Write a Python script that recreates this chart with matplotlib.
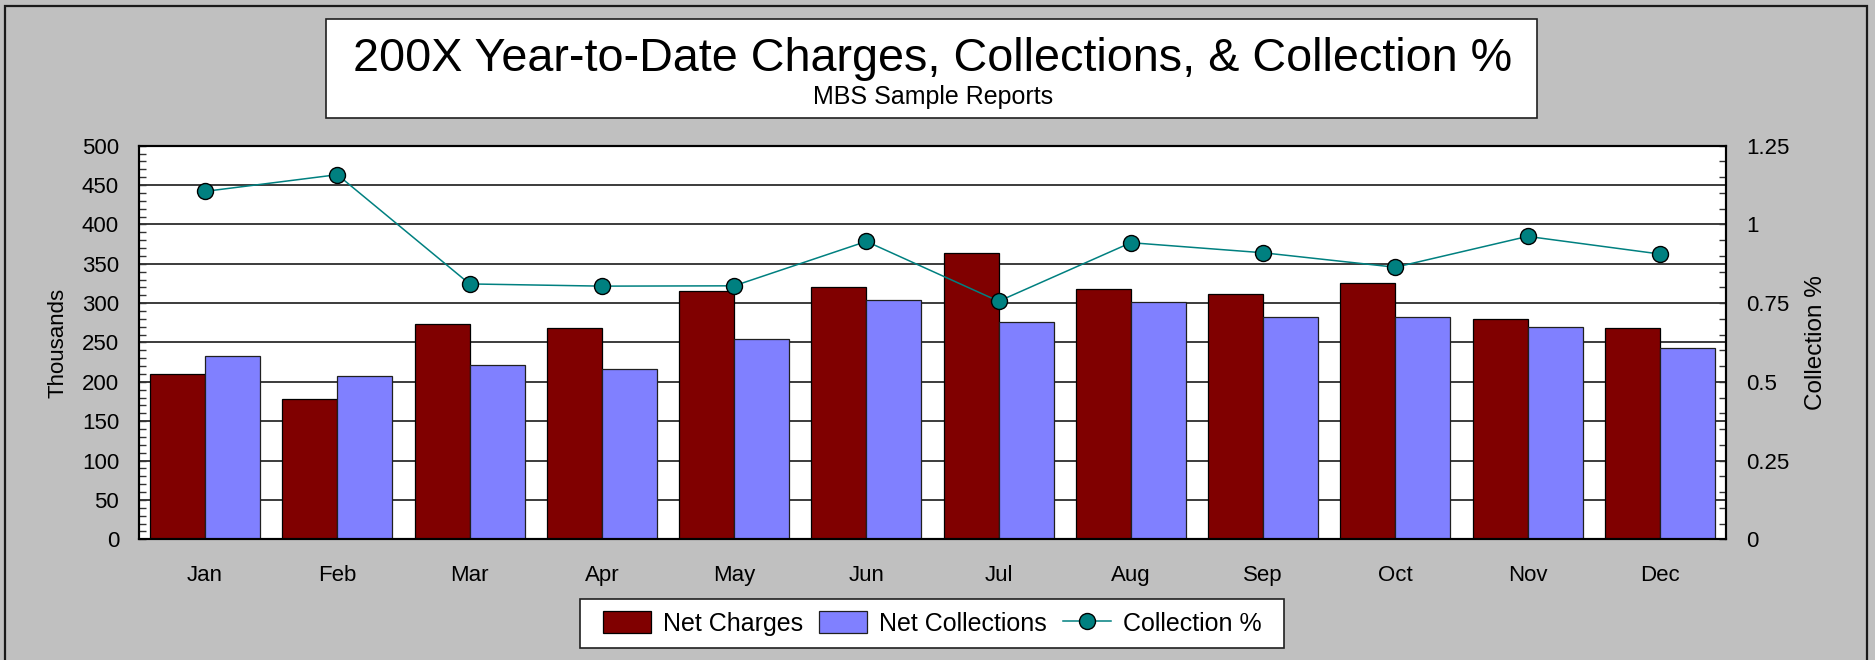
import matplotlib
matplotlib.use("Agg")
import matplotlib.pyplot as plt
from matplotlib.patches import Rectangle, Patch
from matplotlib.ticker import MultipleLocator, FixedLocator, FuncFormatter
from matplotlib.lines import Line2D
import numpy as np

months = ["Jan", "Feb", "Mar", "Apr", "May", "Jun", "Jul", "Aug", "Sep", "Oct", "Nov", "Dec"]
net_charges = [210, 178, 273, 268, 316, 321, 364, 318, 311, 325, 280, 268]
net_collections = [233, 207, 221, 216, 255, 304, 276, 301, 283, 282, 270, 243]
collection_pct = [1.105, 1.158, 0.811, 0.804, 0.805, 0.946, 0.756, 0.942, 0.910, 0.864, 0.962, 0.906]

title = "200X Year-to-Date Charges, Collections, & Collection %"
subtitle = "MBS Sample Reports"

plt.rcParams['font.family'] = ['Liberation Sans', 'DejaVu Sans']

W, H = 1875, 660
fig = plt.figure(figsize=(W / 100, H / 100), dpi=100, facecolor='#C0C0C0')

def fx(px):
    return px / W

def fy(py):
    return 1 - py / H

# outer frame
fig.patches.append(Rectangle((fx(5), -0.05), fx(1867) - fx(5), fy(6) + 0.05,
                             transform=fig.transFigure, facecolor='none',
                             edgecolor='#1a1a1a', lw=1.6, zorder=0))
# title box
fig.patches.append(Rectangle((fx(326), fy(118.3)), fx(1537) - fx(326), (118.3 - 19.3) / H,
                             transform=fig.transFigure, facecolor='white',
                             edgecolor='#202020', lw=1.2, zorder=1))
fig.text(fx(933), fy(71), title, ha='center', va='baseline', fontsize=33.7, color='black')
fig.text(fx(933), fy(104.3), subtitle, ha='center', va='baseline', fontsize=18, color='black')

# plot area
left, right, top, bottom = 139, 1726, 145.7, 539.3
ax = fig.add_axes([fx(left), fy(bottom), fx(right) - fx(left), (bottom - top) / H])
ax.set_facecolor('white')

x = np.arange(len(months))
bw = 0.415
ax.bar(x - bw / 2, net_charges, bw, color='#800000', edgecolor='black', lw=0.9, zorder=2,
       label='Net Charges')
ax.bar(x + bw / 2, net_collections, bw, color='#8080FF', edgecolor='#202020', lw=0.9, zorder=2,
       label='Net Collections')

ax.set_xlim(-0.5, len(months) - 0.5)
ax.set_ylim(0, 500)
ax.set_xticks(x)
ax.set_xticklabels(months, fontsize=16)
ax.tick_params(axis='x', length=0, pad=18.5)
ax.yaxis.set_major_locator(MultipleLocator(50))
ax.yaxis.set_minor_locator(MultipleLocator(10))
ax.tick_params(axis='y', which='both', direction='in', length=5, width=1, color='#333333',
               labelsize=16, pad=14.4)
ax.grid(axis='y', which='major', color='#1a1a1a', lw=1.2)
ax.set_axisbelow(True)
ax.set_ylabel('Thousands', fontsize=16)
for s in ax.spines.values():
    s.set_linewidth(1.5)
    s.set_color('black')

ax2 = ax.twinx()
ax2.plot(x, collection_pct, color='#008080', lw=1.1, marker='o', markersize=11.5,
         markerfacecolor='#008080', markeredgecolor='black', markeredgewidth=1.0, zorder=3,
         label='Collection %')
ax2.set_ylim(0, 1.25)
ax2.yaxis.set_major_locator(FixedLocator([0, 0.25, 0.5, 0.75, 1.0, 1.25]))
ax2.yaxis.set_minor_locator(MultipleLocator(0.05))
ax2.yaxis.set_major_formatter(FuncFormatter(lambda v, p: ('%g' % round(v, 2))))
ax2.tick_params(axis='y', which='both', direction='in', length=5, width=1, color='#333333',
                labelsize=16, pad=14.4)
ax2.set_ylabel('Collection %', fontsize=17.5)
for s in ax2.spines.values():
    s.set_linewidth(1.5)
    s.set_color('black')

ax.yaxis.set_label_coords((69 - left) / (right - left), 0.5)
ax2.yaxis.set_label_coords((1805 - left) / (right - left), 0.5)

# legend box
fig.patches.append(Rectangle((fx(580), fy(648)), fx(1284) - fx(580), (648 - 599) / H,
                             transform=fig.transFigure, facecolor='white',
                             edgecolor='#202020', lw=1.2, zorder=1))
handles = [Patch(facecolor='#800000', edgecolor='black', lw=0.9),
           Patch(facecolor='#8080FF', edgecolor='#202020', lw=0.9),
           Line2D([], [], color='#008080', lw=1.1, marker='o', markersize=11.5,
                  markerfacecolor='#008080', markeredgecolor='black', markeredgewidth=1.0)]
fig.legend(handles, ['Net Charges', 'Net Collections', 'Collection %'],
           loc='center', bbox_to_anchor=(fx(932), fy(623.5)), ncol=3, frameon=False,
           fontsize=18, handlelength=1.92, handleheight=0.96, handletextpad=0.48,
           columnspacing=0.64, borderpad=0.0, borderaxespad=0.0)

fig.savefig('out.png', dpi=100, facecolor=fig.get_facecolor())
